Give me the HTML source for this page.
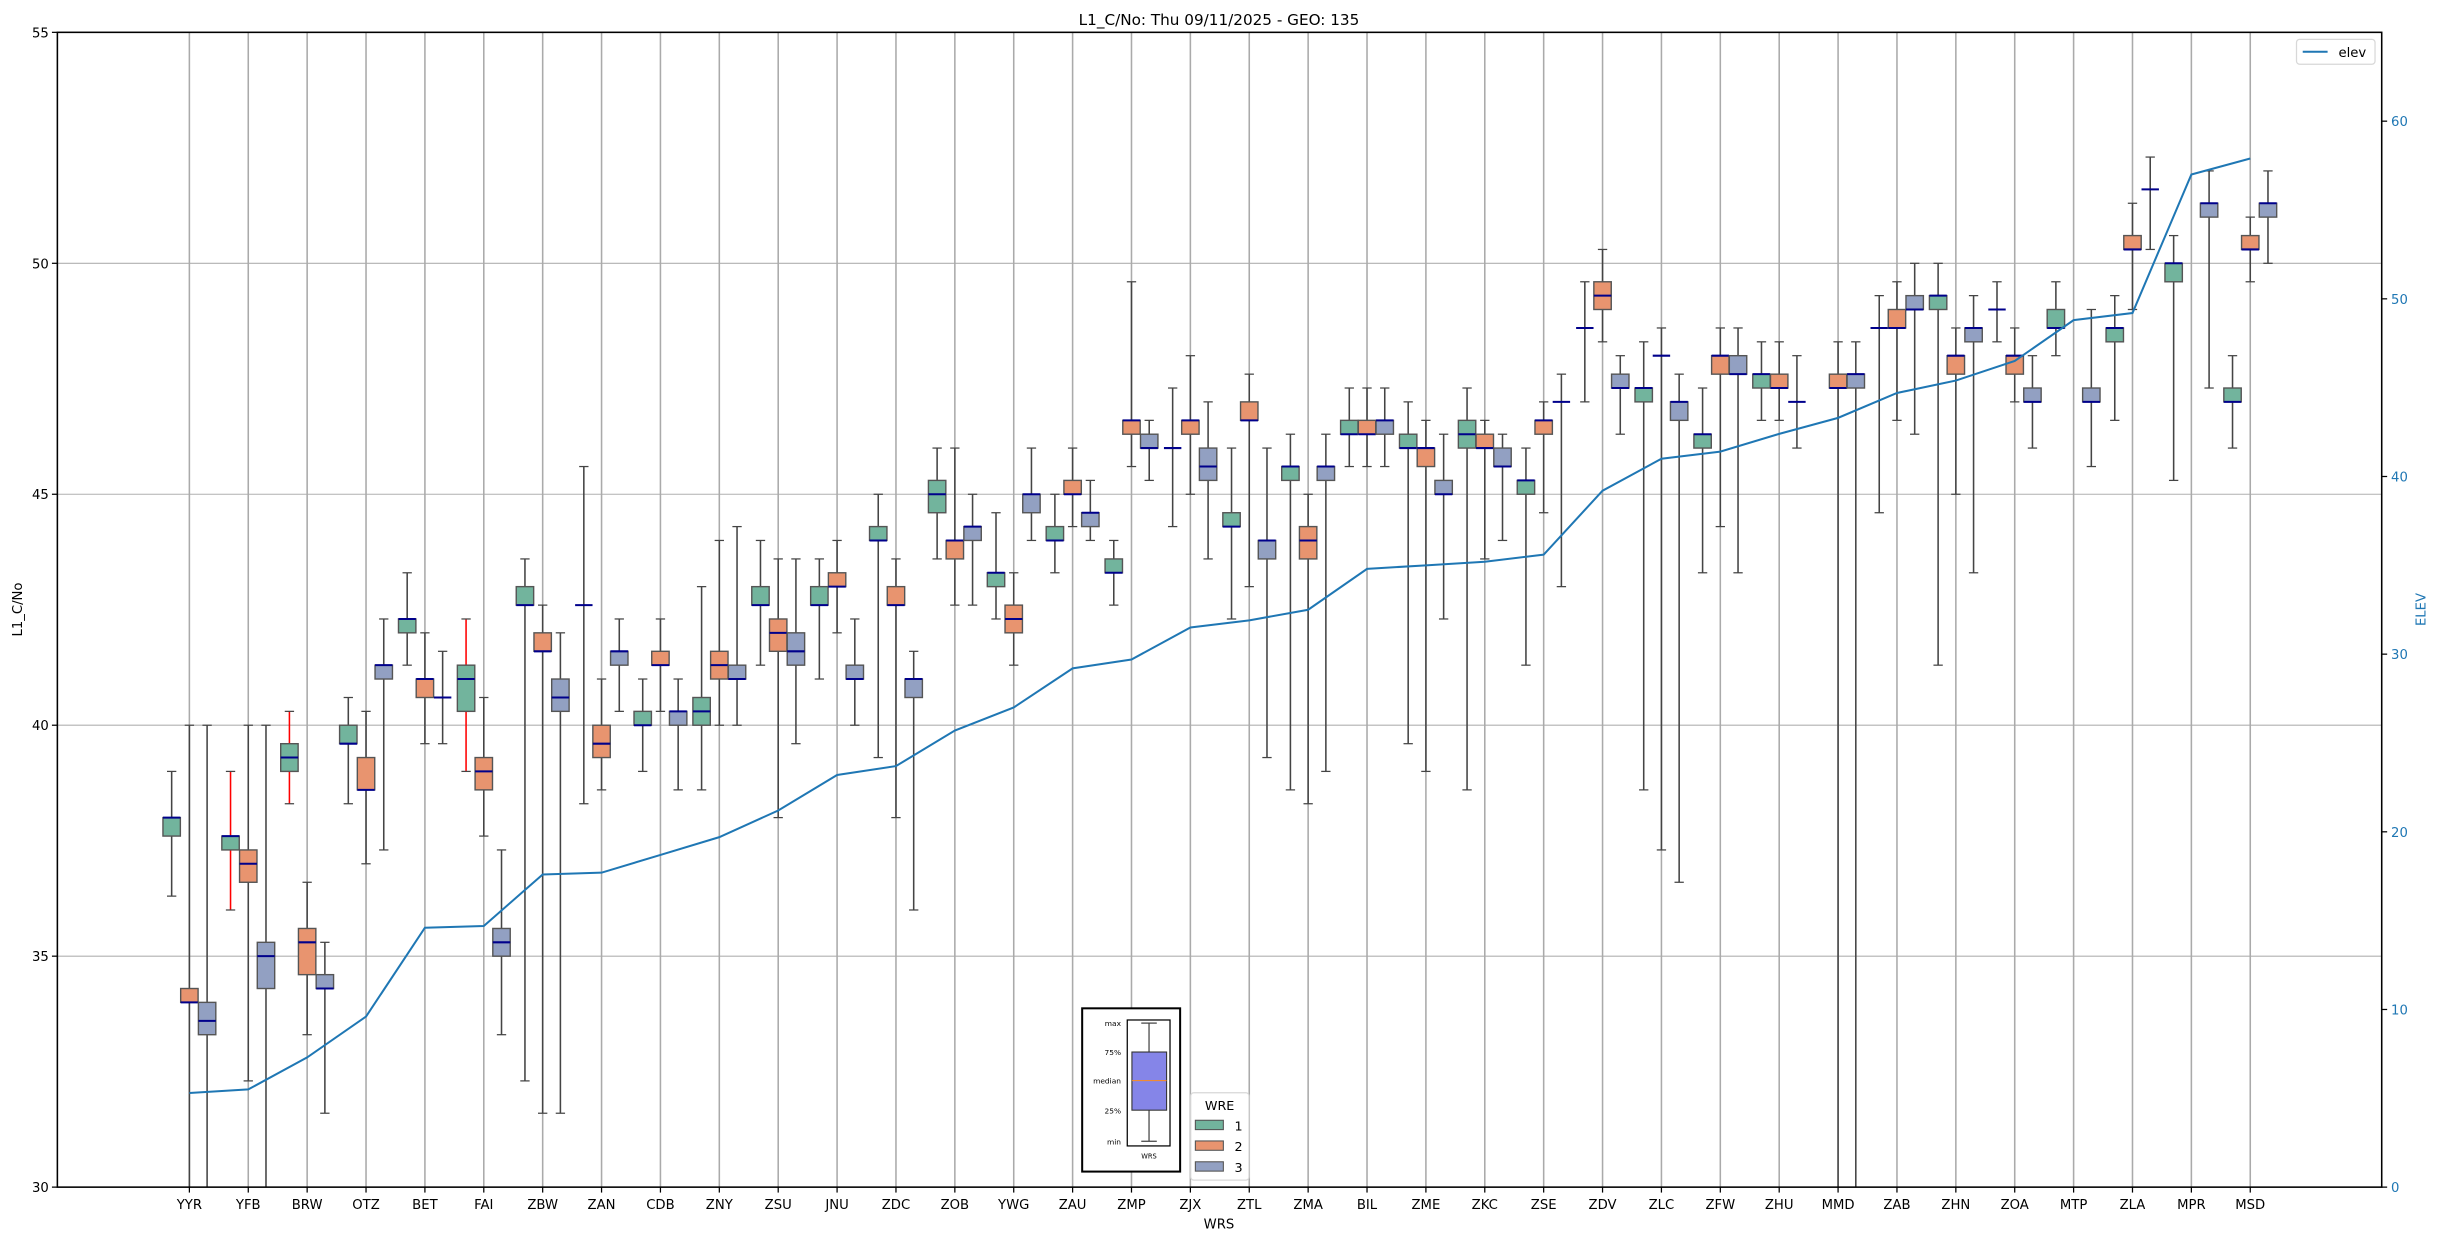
<!DOCTYPE html>
<html><head><meta charset="utf-8"><title>L1_C/No chart</title>
<style>html,body{margin:0;padding:0;background:#fff}svg{display:block}text{font-family:"DejaVu Sans","Liberation Sans",sans-serif}</style>
</head><body>
<svg id="chart" width="2438" height="1240" viewBox="0 0 1568 797.5" preserveAspectRatio="none" xmlns="http://www.w3.org/2000/svg">
<defs><clipPath id="plotclip"><rect x="36.9" y="20.8" width="1494.9" height="742.7"/></clipPath></defs>
<g id="grid"></g>
<g id="marks" clip-path="url(#plotclip)"></g>
<g id="axes"></g>
<text x="784" y="16" text-anchor="middle" font-size="9.8">L1_C/No: Thu 09/11/2025 - GEO: 135</text>
<text x="784" y="790" text-anchor="middle" font-size="8.5">WRS</text>
<text transform="translate(14,392) rotate(-90)" text-anchor="middle" font-size="8.5">L1_C/No</text>
<text transform="translate(1560,392) rotate(-90)" text-anchor="middle" font-size="8.5" fill="#1f77b4">ELEV</text>
<g>
<rect x="1477" y="25.3" width="50.5" height="16" rx="2" fill="#fff" stroke="#d8d8d8" stroke-width="0.8"/>
<line x1="1481" y1="33.3" x2="1497" y2="33.3" stroke="#1f77b4" stroke-width="1.3"/>
<text x="1504" y="36.5" font-size="8.5">elev</text>
</g>
<g>
<rect x="696" y="648.5" width="63" height="105" fill="#fff" stroke="#000" stroke-width="1.3"/>
<rect x="725" y="656" width="27.5" height="81" fill="#fff" stroke="#000" stroke-width="0.8"/>
<line x1="739" y1="658" x2="739" y2="734" stroke="#444" stroke-width="0.8"/>
<line x1="734" y1="658" x2="744" y2="658" stroke="#444" stroke-width="0.8"/>
<line x1="734" y1="734" x2="744" y2="734" stroke="#444" stroke-width="0.8"/>
<rect x="728" y="676.6" width="22.3" height="37.4" fill="#8585e8" stroke="#333" stroke-width="0.7"/>
<line x1="728" y1="695" x2="750.3" y2="695" stroke="#ff8c1a" stroke-width="0.7"/>
<g font-size="4.8" text-anchor="end">
<text x="721" y="660">max</text><text x="721" y="678.5">75%</text><text x="721" y="697">median</text><text x="721" y="716">25%</text><text x="721" y="736">min</text>
</g>
<text x="739" y="745" font-size="4.3" text-anchor="middle">WRS</text>
</g>
<g>
<rect x="765.8" y="702.8" width="37.5" height="56.2" rx="2" fill="#fff" stroke="#d8d8d8" stroke-width="0.8"/>
<text x="784.4" y="714" font-size="8.2" text-anchor="middle">WRE</text>
<rect x="768.8" y="720.5" width="18" height="6" fill="#72b49d" stroke="#555" stroke-width="0.7"/>
<text x="794" y="727" font-size="8.2">1</text>
<rect x="768.8" y="733.8" width="18" height="6" fill="#e8946f" stroke="#555" stroke-width="0.7"/>
<text x="794" y="740.3" font-size="8.2">2</text>
<rect x="768.8" y="747.2" width="18" height="6" fill="#92a0c2" stroke="#555" stroke-width="0.7"/>
<text x="794" y="753.7" font-size="8.2">3</text>
</g>
<script>
const cats = ["YYR","YFB","BRW","OTZ","BET","FAI","ZBW","ZAN","CDB","ZNY","ZSU","JNU","ZDC","ZOB","YWG","ZAU","ZMP","ZJX","ZTL","ZMA","BIL","ZME","ZKC","ZSE","ZDV","ZLC","ZFW","ZHU","MMD","ZAB","ZHN","ZOA","MTP","ZLA","MPR","MSD"];
const elev = [5.3,5.5,7.3,9.6,14.6,14.7,17.6,17.7,18.7,19.7,21.2,23.2,23.7,25.7,27.0,29.2,29.7,31.5,31.9,32.5,34.8,35.0,35.2,35.6,39.2,41.0,41.4,42.4,43.3,44.7,45.4,46.5,48.8,49.2,57.0,57.9];
// [min, q1, median, q3, max]
const wre1 = [[36.3,37.6,38.0,38.0,39.0],[36.0,37.3,37.6,37.6,39.0],[38.3,39.0,39.3,39.6,40.3],[38.3,39.6,39.6,40.0,40.6],[41.3,42.0,42.3,42.3,43.3],[39.0,40.3,41.0,41.3,42.3],[32.3,42.6,42.6,43.0,43.6],[38.3,42.6,42.6,42.6,45.6],[39.0,40.0,40.0,40.3,41.0],[38.6,40.0,40.3,40.6,43.0],[41.3,42.6,42.6,43.0,44.0],[41.0,42.6,42.6,43.0,43.6],[39.3,44.0,44.0,44.3,45.0],[43.6,44.6,45.0,45.3,46.0],[42.3,43.0,43.3,43.3,44.6],[43.3,44.0,44.0,44.3,45.0],[42.6,43.3,43.3,43.6,44.0],[44.3,46.0,46.0,46.0,47.3],[42.3,44.3,44.3,44.6,46.0],[38.6,45.3,45.6,45.6,46.3],[45.6,46.3,46.3,46.6,47.3],[39.6,46.0,46.0,46.3,47.0],[38.6,46.0,46.3,46.6,47.3],[41.3,45.0,45.3,45.3,46.0],[47.0,48.6,48.6,48.6,49.6],[38.6,47.0,47.3,47.3,48.3],[43.3,46.0,46.3,46.3,47.3],[46.6,47.3,47.6,47.6,48.3],null,[44.6,48.6,48.6,48.6,49.3],[41.3,49.0,49.3,49.3,50.0],[48.3,49.0,49.0,49.0,49.6],[48.0,48.6,48.6,49.0,49.6],[46.6,48.3,48.6,48.6,49.3],[45.3,49.6,50.0,50.0,50.6],[46.0,47.0,47.0,47.3,48.0]];
const wre2 = [[29,34.0,34.0,34.3,40.0],[32.3,36.6,37.0,37.3,40.0],[33.3,34.6,35.3,35.6,36.6],[37.0,38.6,38.6,39.3,40.3],[39.6,40.6,41.0,41.0,42.0],[37.6,38.6,39.0,39.3,40.6],[31.6,41.6,41.6,42.0,42.6],[38.6,39.3,39.6,40.0,41.0],[40.3,41.3,41.3,41.6,42.3],[40.0,41.0,41.3,41.6,44.0],[38.0,41.6,42.0,42.3,43.6],[42.0,43.0,43.0,43.3,44.0],[38.0,42.6,42.6,43.0,43.6],[42.6,43.6,44.0,44.0,46.0],[41.3,42.0,42.3,42.6,43.3],[44.3,45.0,45.0,45.3,46.0],[45.6,46.3,46.6,46.6,49.6],[45.0,46.3,46.6,46.6,48.0],[43.0,46.6,46.6,47.0,47.6],[38.3,43.6,44.0,44.3,45.0],[45.6,46.3,46.3,46.6,47.3],[39.0,45.6,46.0,46.0,46.6],[43.6,46.0,46.0,46.3,46.6],[44.6,46.3,46.6,46.6,47.0],[48.3,49.0,49.3,49.6,50.3],[37.3,48.0,48.0,48.0,48.6],[44.3,47.6,48.0,48.0,48.6],[46.6,47.3,47.3,47.6,48.3],[29,47.3,47.3,47.6,48.3],[46.6,48.6,48.6,49.0,49.6],[45.0,47.6,48.0,48.0,48.6],[47.0,47.6,48.0,48.0,48.6],null,[49.0,50.3,50.3,50.6,51.3],null,[49.6,50.3,50.3,50.6,51.0]];
const wre3 = [[29,33.3,33.6,34.0,40.0],[29,34.3,35.0,35.3,40.0],[31.6,34.3,34.3,34.6,35.3],[37.3,41.0,41.3,41.3,42.3],[39.6,40.6,40.6,40.6,41.6],[33.3,35.0,35.3,35.6,37.3],[31.6,40.3,40.6,41.0,42.0],[40.3,41.3,41.6,41.6,42.3],[38.6,40.0,40.3,40.3,41.0],[40.0,41.0,41.0,41.3,44.3],[39.6,41.3,41.6,42.0,43.6],[40.0,41.0,41.0,41.3,42.3],[36.0,40.6,41.0,41.0,41.6],[42.6,44.0,44.3,44.3,45.0],[44.0,44.6,45.0,45.0,46.0],[44.0,44.3,44.6,44.6,45.3],[45.3,46.0,46.0,46.3,46.6],[43.6,45.3,45.6,46.0,47.0],[39.3,43.6,44.0,44.0,46.0],[39.0,45.3,45.6,45.6,46.3],[45.6,46.3,46.6,46.6,47.3],[42.3,45.0,45.0,45.3,46.3],[44.0,45.6,45.6,46.0,46.3],[43.0,47.0,47.0,47.0,47.6],[46.3,47.3,47.3,47.6,48.0],[36.6,46.6,47.0,47.0,47.6],[43.3,47.6,47.6,48.0,48.6],[46.0,47.0,47.0,47.0,48.0],[29,47.3,47.6,47.6,48.3],[46.3,49.0,49.0,49.3,50.0],[43.3,48.3,48.6,48.6,49.3],[46.0,47.0,47.0,47.3,48.0],[45.6,47.0,47.0,47.3,49.0],[50.3,51.6,51.6,51.6,52.3],[47.3,51.0,51.3,51.3,52.0],[50.0,51.0,51.3,51.3,52.0]];
const redWhisker1 = ["YFB","BRW","FAI"];
const yTicks = [30,35,40,45,50,55];
const y2Ticks = [0,10,20,30,40,50,60];

const NS="http://www.w3.org/2000/svg";
const L=36.9,R=1531.8,T=20.8,B=763.5;
const x0=121.8,dx=37.87;
function xS(i){return x0+i*dx;}
function yS(v){return B-(v-30)/(55-30)*(B-T);}
function y2S(v){return B-(v-0)/(65-0)*(B-T);}
function mk(tag,attrs,parent){const e=document.createElementNS(NS,tag);for(const k in attrs)e.setAttribute(k,attrs[k]);parent.appendChild(e);return e;}
const grid=document.getElementById('grid'),marks=document.getElementById('marks'),axes=document.getElementById('axes');

yTicks.forEach(v=>{
  const g=mk('line',{x1:L,x2:R,y1:yS(v),y2:yS(v),stroke:'#b0b0b0','stroke-width':0.7},grid);
  
  
  mk('line',{x1:L-3.5,x2:L,y1:yS(v),y2:yS(v),stroke:'#000','stroke-width':0.8},axes);
  const t=mk('text',{x:L-5.5,y:yS(v)+3.2,'text-anchor':'end','font-size':8.5},axes);
  t.textContent=v;
  
  
});
cats.forEach((c,i)=>{
  const g=mk('line',{x1:xS(i),x2:xS(i),y1:T,y2:B,stroke:'#aaaaaa','stroke-width':1.0},grid);
  
  
  mk('line',{x1:xS(i),x2:xS(i),y1:B,y2:B+3.5,stroke:'#000','stroke-width':0.8},axes);
  const t=mk('text',{x:xS(i),y:B+14,'text-anchor':'middle','font-size':8.5},axes);
  t.textContent=c;
  
  
});
y2Ticks.forEach(v=>{
  mk('line',{x1:R,x2:R+3.5,y1:y2S(v),y2:y2S(v),stroke:'#000','stroke-width':0.8},axes);
  const t=mk('text',{x:R+6,y:y2S(v)+3.2,'font-size':8.5,fill:'#1f77b4'},axes);
  t.textContent=v;
  
  
});
const frame=mk('rect',{x:L,y:T,width:R-L,height:B-T,fill:'none',stroke:'#000','stroke-width':1},axes);



const series=[{d:wre1,off:-11.4,fill:'#72b49d',name:'wre1'},{d:wre2,off:0,fill:'#e8946f',name:'wre2'},{d:wre3,off:11.4,fill:'#92a0c2',name:'wre3'}];
const bw=11.2,cw=6;
series.forEach((s,si)=>{
  s.d.forEach((b,i)=>{
    if(!b)return;
    const cx=xS(i)+s.off;
    const g=mk('g',{},marks);
    
    
    const wc=(si===0&&redWhisker1.indexOf(cats[i])>=0)?'#ff0000':'#444';
    mk('line',{x1:cx,x2:cx,y1:yS(b[0]),y2:yS(b[1]),stroke:wc,'stroke-width':1},g);
    mk('line',{x1:cx,x2:cx,y1:yS(b[3]),y2:yS(b[4]),stroke:wc,'stroke-width':1},g);
    mk('line',{x1:cx-cw/2,x2:cx+cw/2,y1:yS(b[0]),y2:yS(b[0]),stroke:'#444','stroke-width':0.8},g);
    mk('line',{x1:cx-cw/2,x2:cx+cw/2,y1:yS(b[4]),y2:yS(b[4]),stroke:'#444','stroke-width':0.8},g);
    const h=yS(b[1])-yS(b[3]);
    if(h>0.2) mk('rect',{x:cx-bw/2,y:yS(b[3]),width:bw,height:h,fill:s.fill,stroke:'#555','stroke-width':0.9},g);
    mk('line',{x1:cx-bw/2,x2:cx+bw/2,y1:yS(b[2]),y2:yS(b[2]),stroke:'#00008b','stroke-width':1.3},g);
  });
});
const pts=elev.map((v,i)=>xS(i)+','+y2S(v)).join(' ');
const line=mk('polyline',{points:pts,fill:'none',stroke:'#1f77b4','stroke-width':1.3},marks);


</script>
</svg>
</body></html>
